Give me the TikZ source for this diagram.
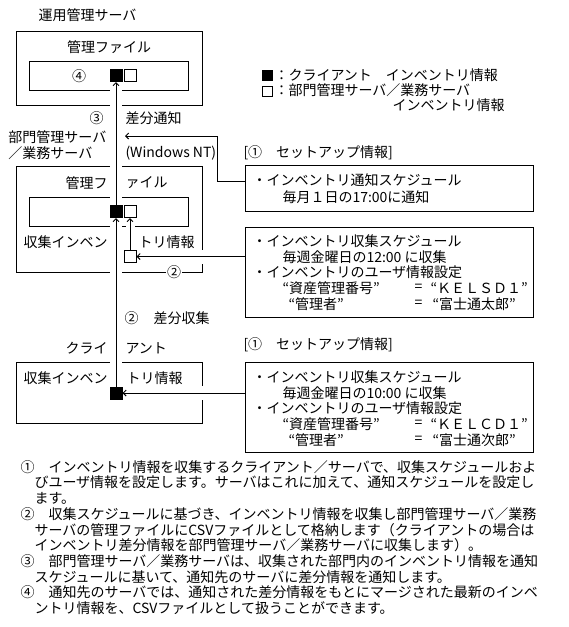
\documentclass[tikz,border=0pt]{standalone}
\usepackage{fontspec}
\setmainfont{Noto Sans CJK JP}
\usetikzlibrary{arrows.meta}

\newcommand{\figfont}{\fontsize{14pt}{15.7pt}\selectfont}

\tikzset{
  every node/.style={font=\figfont, inner sep=0pt},
  sqb/.style={draw, fill=black, minimum width=12pt, minimum height=12pt},
  sqw/.style={draw, fill=white, minimum width=12pt, minimum height=12pt},
  lgsq/.style={draw, minimum width=10pt, minimum height=10pt},
  setbox/.style={draw, minimum width=288pt},
  arr/.style={-{Straight Barb[length=3pt,width=6pt]}},
  knock/.style={preaction={draw=white, line width=#1, -}},
}

\begin{document}
\begin{tikzpicture}[x=1pt, y=-1pt, line width=1pt]
	\useasboundingbox (0,0) rectangle (569,627);

	% servers
	\node[anchor=west] (ttl) at (38,15) {運用管理サーバ};
	\draw (16,31) rectangle (202,105);
	\draw (29,61) rectangle (188,90);
	\node (mf1) at (109,47) {管理ファイル};
	\node (n4) at (79,76) {④};
	\node[sqb] (sq1b) at (116,75.5) {};
	\node[sqw] (sq1w) at (130,75.5) {};

	% legend
	\node[lgsq, fill=black] (lgb) at (267,75.5) {};
	\node[lgsq] (lgw) at (267,91.5) {};
	\node[anchor=west] (lg1) at (274,75.5) {：クライアント　インベントリ情報};
	\node[anchor=west] (lg2) at (274,90.5) {：部門管理サーバ／業務サーバ};
	\node[anchor=east] (lg3) at (505,105.5) {インベントリ情報};

	\node (n3) at (96.5,118) {③};
	\node[anchor=west] (dt) at (125,118) {差分通知};
	\node[anchor=west] (bm1) at (8,137) {部門管理サーバ};
	\node[anchor=west] (bm2) at (8,153) {／業務サーバ};
	\node[anchor=west] (wnt) at (125,153) {(Windows NT)};
	\coordinate (ntip) at (125,136);

	% setup of the department server
	\node[anchor=west] (su1) at (243,153) {[①　セットアップ情報]};
	\node[setbox, minimum height=46pt] (set1) at (389,188) {};
	\node[anchor=west] (s1a) at (252,180) {・インベントリ通知スケジュール};
	\node[anchor=west] (s1b) at (282,197) {毎月１日の17:00に通知};

	\draw (16,166) rectangle (202,272);
	\draw (29,197) rectangle (188,226);
	\node[anchor=east] (mf2a) at (108,183) {管理フ};
	\node[anchor=west] (mf2b) at (125,183) {ァイル};
	\node[anchor=east] (ci2a) at (108,242) {収集インベン};
	\node[anchor=west] (ci2b) at (138,242) {トリ情報};
	\node[sqb] (sq2b) at (116,211.5) {};
	\node[sqw] (sq2w) at (130,211.5) {};
	\node[sqw] (sw2) at (130,256.5) {};
	\node[fill=white, inner sep=1pt] (n2b) at (174,272) {②};

	\node[setbox, minimum height=90pt] (set2) at (389,272) {};
	\node[anchor=west] (s2a) at (252,241) {・インベントリ収集スケジュール};
	\node[anchor=west] (s2b) at (282,256.7) {毎週金曜日の12:00 に収集};
	\node[anchor=west] (s2c) at (252,272.4) {・インベントリのユーザ情報設定};
	\node[anchor=west] (s2d) at (282,288.1) {“資産管理番号”};
	\node[anchor=west] (s2e) at (414,288.1) {=};
	\node[anchor=west] (s2f) at (430,288.1) {“ＫＥＬＳＤ１”};
	\node[anchor=west] (s2g) at (288,303.8) {“管理者”};
	\node[anchor=west] (s2h) at (414,303.8) {=};
	\node[anchor=west] (s2i) at (432,303.8) {“富士通太郎”};

	% client
	\node[anchor=west] (n2) at (124,318) {②};
	\node[anchor=west] (dc) at (153,318) {差分収集};
	\node[anchor=east] (cl1) at (108,348) {クライ};
	\node[anchor=west] (cl2) at (125,348) {アント};
	\draw (16,362) rectangle (202,423);
	\node[anchor=east] (ci3a) at (108,378) {収集インベン};
	\node[anchor=west] (ci3b) at (126,378) {トリ情報};
	\node[sqb] (sq3b) at (116,393) {};

	\node[anchor=west] (su2) at (243,345) {[①　セットアップ情報]};
	\node[setbox, minimum height=90pt] (set3) at (389,407) {};
	\node[anchor=west] (s3a) at (252,377) {・インベントリ収集スケジュール};
	\node[anchor=west] (s3b) at (282,392.7) {毎週金曜日の10:00 に収集};
	\node[anchor=west] (s3c) at (252,408.4) {・インベントリのユーザ情報設定};
	\node[anchor=west] (s3d) at (282,424.1) {“資産管理番号”};
	\node[anchor=west] (s3e) at (414,424.1) {=};
	\node[anchor=west] (s3f) at (430,424.1) {“ＫＥＬＣＤ１”};
	\node[anchor=west] (s3g) at (288,439.8) {“管理者”};
	\node[anchor=west] (s3h) at (414,439.8) {=};
	\node[anchor=west] (s3i) at (432,439.8) {“富士通次郎”};

	% connectors
	\draw[arr, knock=12pt] (sq3b) -- (sq2b);
	\draw[arr, knock=12pt] (sq2b) -- (sq1b);
	\draw[arr, knock=9pt] (sw2) -- (sq2w);
	\draw[arr, knock=14pt] (set2.west |- sw2) -- (sw2);
	\draw[arr, knock=14pt] (set3.west |- sq3b) -- (sq3b);
	\draw[arr] ([yshift=7pt]set1.west) -| (217,136) -- (ntip);

	% notes
	\node[anchor=west] (t1) at (20,467) {①　インベントリ情報を収集するクライアント／サーバで、収集スケジュールおよ};
	\node[anchor=west] (t2) at (34,482.7) {びユーザ情報を設定します。サーバはこれに加えて、通知スケジュールを設定し};
	\node[anchor=west] (t3) at (34,498.4) {ます。};
	\node[anchor=west] (t4) at (20,514.1) {②　収集スケジュールに基づき、インベントリ情報を収集し部門管理サーバ／業務};
	\node[anchor=west] (t5) at (34,529.8) {サーバの管理ファイルにCSVファイルとして格納します（クライアントの場合は};
	\node[anchor=west] (t6) at (34,545.5) {インベントリ差分情報を部門管理サーバ／業務サーバに収集します）。};
	\node[anchor=west] (t7) at (20,561.2) {③　部門管理サーバ／業務サーバは、収集された部門内のインベントリ情報を通知};
	\node[anchor=west] (t8) at (34,576.9) {スケジュールに基いて、通知先のサーバに差分情報を通知します。};
	\node[anchor=west] (t9) at (20,592.6) {④　通知先のサーバでは、通知された差分情報をもとにマージされた最新のインベ};
	\node[anchor=west] (t10) at (34,608.3) {ントリ情報を、CSVファイルとして扱うことができます。};
\end{tikzpicture}
\end{document}
